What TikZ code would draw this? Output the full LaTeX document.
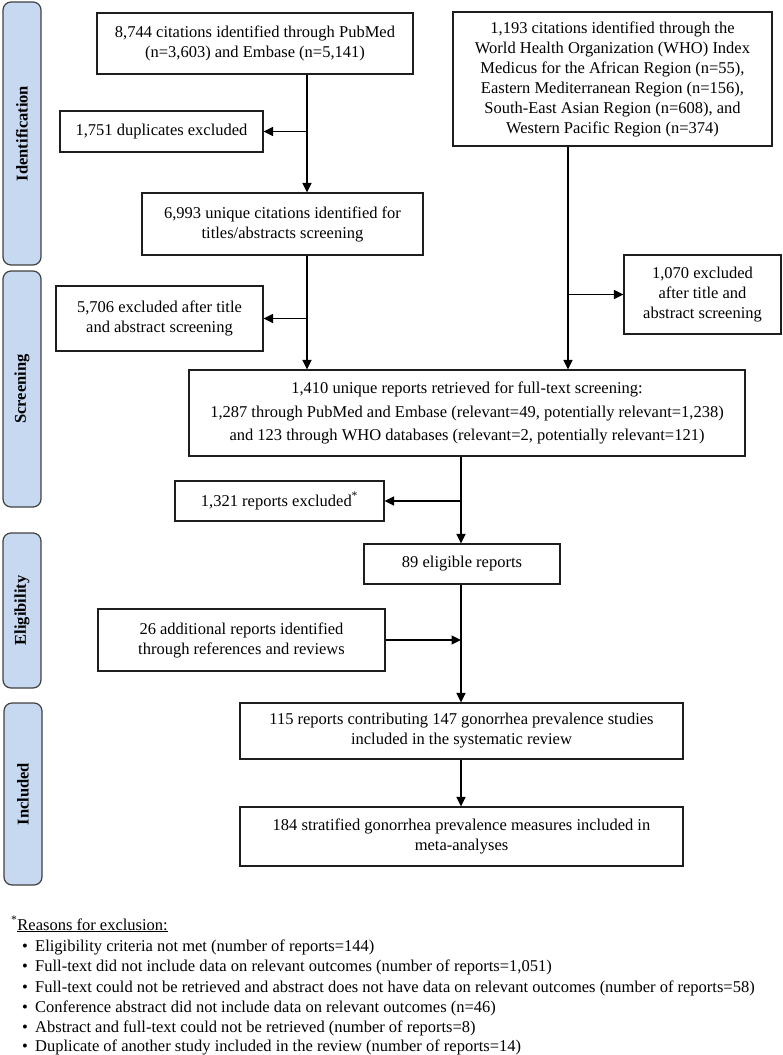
\documentclass[tikz,border=0pt]{standalone}
\usepackage{fontspec}
\setmainfont{Liberation Serif}
\usetikzlibrary{arrows.meta}
\definecolor{sideblue}{RGB}{198,217,240}
\definecolor{edge}{RGB}{30,30,30}
\begin{document}
\begin{tikzpicture}[x=1pt,y=-1pt,
  fbox/.style={draw=edge,line width=1.2pt,inner sep=0pt,align=center,fill=white,
    font=\fontsize{16.5}{20}\selectfont},
  side/.style={draw=edge!85,line width=1.2pt,fill=sideblue,rounded corners=8pt,rotate=90,
    inner sep=0pt,minimum height=38pt,font=\fontsize{16.5}{20}\selectfont\bfseries},
  arr/.style={line width=1.6pt,-{Triangle[length=9.5pt,width=9pt]}},
  note/.style={anchor=base west,inner sep=0pt,font=\fontsize{16.5}{20}\selectfont}]
\useasboundingbox (0,0) rectangle (783,1055);
% side labels
\node[side,minimum width=263pt] (sid) at (22,133.5) {Identification};
\node[side,minimum width=236pt] (ssc) at (22,389) {Screening};
\node[side,minimum width=155pt] (sel) at (22,610.5) {Eligibility};
\node[side,minimum width=182pt] (sin) at (23,794) {Included};
% boxes
\node[fbox,minimum width=316pt,minimum height=61pt] (A) at (255,43.5)
  {8,744 citations identified through PubMed\\(n=3,603) and Embase (n=5,141)};
\node[fbox,minimum width=203pt,minimum height=41pt] (B) at (161.5,131.5)
  {1,751 duplicates excluded};
\node[fbox,minimum width=281pt,minimum height=62pt] (C) at (282.5,224)
  {6,993 unique citations identified for\\titles/abstracts screening};
\node[fbox,minimum width=319pt,minimum height=134pt] (D) at (612.5,79)
  {1,193 citations identified through the\\World Health Organization (WHO) Index\\Medicus for the African Region (n=55),\\Eastern Mediterranean Region (n=156),\\South-East Asian Region (n=608), and\\Western Pacific Region (n=374)};
\node[fbox,minimum width=157pt,minimum height=79pt] (E) at (702.5,294.5)
  {1,070 excluded\\after title and\\abstract screening};
\node[fbox,minimum width=207pt,minimum height=65pt] (F) at (159.5,318.5)
  {5,706 excluded after title\\and abstract screening};
\node[fbox,minimum width=556pt,minimum height=86pt] (G) at (467,413)
  {1,410 unique reports retrieved for full-text screening:\\[3.5pt]1,287 through PubMed and Embase (relevant=49, potentially relevant=1,238)\\[3.5pt]and 123 through WHO databases (relevant=2, potentially relevant=121)};
\node[fbox,minimum width=209pt,minimum height=40pt] (I) at (279.5,501)
  {1,321 reports excluded\textsuperscript{*}};
\node[fbox,minimum width=196pt,minimum height=40pt] (H) at (462,564)
  {89 eligible reports};
\node[fbox,minimum width=287pt,minimum height=62pt] (J) at (241.5,640)
  {26 additional reports identified\\through references and reviews};
\node[fbox,minimum width=443pt,minimum height=56pt] (K) at (461.5,731)
  {115 reports contributing 147 gonorrhea prevalence studies\\included in the systematic review};
\node[fbox,minimum width=443pt,minimum height=59pt] (L) at (461.5,836.5)
  {184 stratified gonorrhea prevalence measures included in\\meta-analyses};
% connector columns
\coordinate (xA) at (307,0);
\coordinate (xD) at (568,0);
\coordinate (xG) at (461,0);
\draw[arr] (A.south -| xA) -- (C.north -| xA);
\draw[arr] (B.east -| xA) -- (B.east);
\draw[arr] (C.south -| xA) -- (G.north -| xA);
\draw[arr] (F.east -| xA) -- (F.east);
\draw[arr] (D.south -| xD) -- (G.north -| xD);
\draw[arr] (E.west -| xD) -- (E.west);
\draw[arr] (G.south -| xG) -- (H.north -| xG);
\draw[arr] (I.east -| xG) -- (I.east);
\draw[arr] (H.south -| xG) -- (K.north -| xG);
\draw[arr] (J.east) -- (J.east -| xG);
\draw[arr] (K.south -| xG) -- (L.north -| xG);
% footnote
\node[note] (n0) at (11,930) {\textsuperscript{*}\underline{Reasons for exclusion:}};
\node[note] (n1) at (22,951) {\makebox[13pt][l]{\textbullet}Eligibility criteria not met (number of reports=144)};
\node[note] (n2) at (22,971.5) {\makebox[13pt][l]{\textbullet}Full-text did not include data on relevant outcomes (number of reports=1,051)};
\node[note] (n3) at (22,992) {\makebox[13pt][l]{\textbullet}Full-text could not be retrieved and abstract does not have data on relevant outcomes (number of reports=58)};
\node[note] (n4) at (22,1012) {\makebox[13pt][l]{\textbullet}Conference abstract did not include data on relevant outcomes (n=46)};
\node[note] (n5) at (22,1032) {\makebox[13pt][l]{\textbullet}Abstract and full-text could not be retrieved (number of reports=8)};
\node[note] (n6) at (22,1051) {\makebox[13pt][l]{\textbullet}Duplicate of another study included in the review (number of reports=14)};
\end{tikzpicture}
\end{document}
